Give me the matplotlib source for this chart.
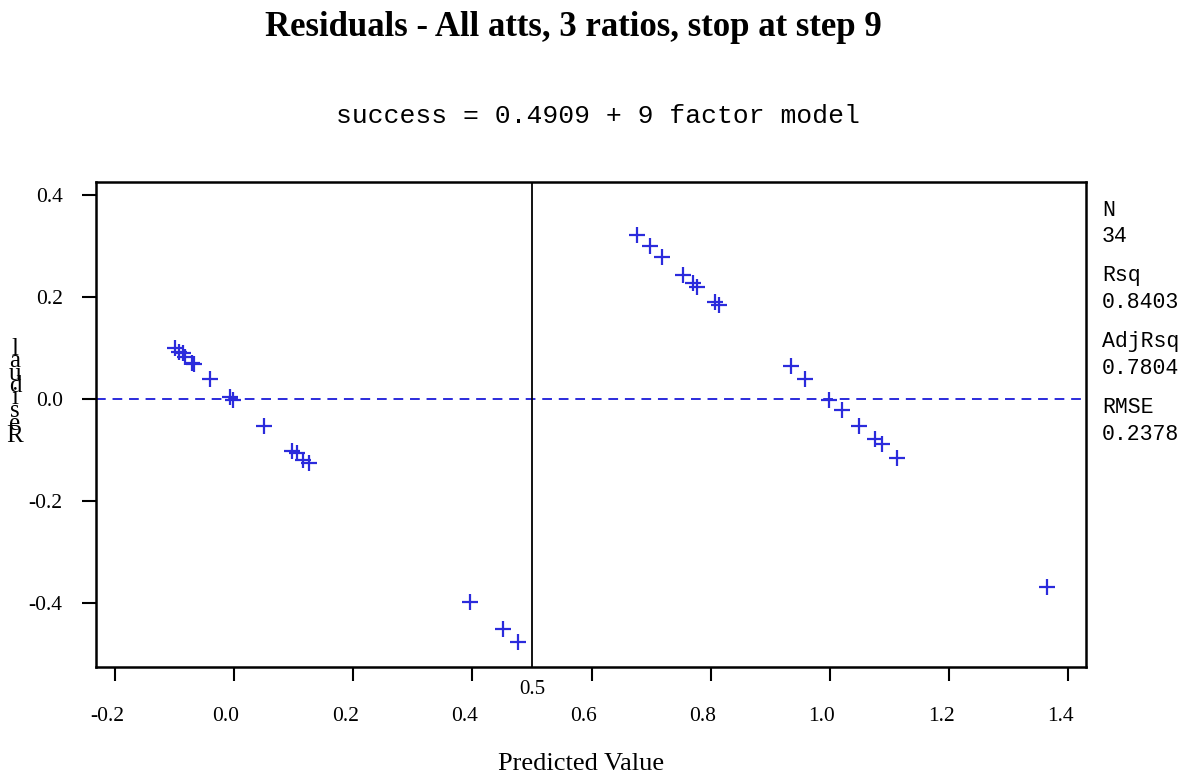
import numpy as np
import matplotlib
matplotlib.use("Agg")
import matplotlib.pyplot as plt
import matplotlib.transforms as mtransforms

# predicted values and residuals
pred = [-0.099, -0.092, -0.086, -0.082, -0.071, -0.067, -0.040, -0.007, -0.001,
        0.051, 0.097, 0.105, 0.116, 0.126, 0.396, 0.451, 0.476,
        0.676, 0.698, 0.718, 0.753, 0.771, 0.777, 0.808, 0.814,
        0.934, 0.958, 0.998, 1.020, 1.049, 1.075, 1.088, 1.113, 1.365]
resid = [0.101, 0.093, 0.090, 0.083, 0.071, 0.068, 0.039, 0.003, -0.001,
         -0.053, -0.102, -0.106, -0.120, -0.126, -0.398, -0.452, -0.477,
         0.322, 0.301, 0.278, 0.243, 0.228, 0.220, 0.190, 0.184,
         0.064, 0.039, -0.001, -0.022, -0.053, -0.078, -0.089, -0.116, -0.369]

xticks = [-0.2, 0.0, 0.2, 0.4, 0.6, 0.8, 1.0, 1.2, 1.4]
yticks = [-0.4, -0.2, 0.0, 0.2, 0.4]
ref_x = 0.5

stat_names = ["N", "Rsq", "AdjRsq", "RMSE"]
stat_values = ["34", "0.8403", "0.7804", "0.2378"]

title = "Residuals - All atts, 3 ratios, stop at step 9"
subtitle = "success = 0.4909 + 9 factor model"

blue = "#2b2bdc"
serif = "Liberation Serif"
mono = "Liberation Mono"

W, H = 1187, 783
fig = plt.figure(figsize=(W / 100, H / 100), dpi=100)
ax = fig.add_axes([96 / W, 1 - 667 / H, 990 / W, 485 / H])

ax.plot(pred, resid, linestyle="none", marker="+", markersize=11,
        markeredgewidth=1.6, color=blue)
ax.axhline(0, color=blue, linestyle=(0, (5, 3.5)), linewidth=1.4)
ax.axvline(ref_x, color="black", linewidth=1.3)

ax.set_xlim(-0.2316, 1.4298)
ax.set_ylim(-0.526, 0.426)
ax.set_xticks(xticks)
ax.set_yticks(yticks)
ax.set_xticklabels(["%.1f" % v for v in xticks], fontfamily=serif, fontsize=15.5)
ax.set_yticklabels(["%.1f" % v for v in yticks], fontfamily=serif, fontsize=15.5)
ax.tick_params(direction="out", length=10, width=1.5)
ax.tick_params(axis="x", pad=19)
ax.tick_params(axis="y", pad=14)
for sp in ax.spines.values():
    sp.set_linewidth(1.8)

# x tick labels sit a bit left of their ticks
shift = mtransforms.ScaledTranslation(-8 / 100, 0, fig.dpi_scale_trans)
for lab in ax.get_xticklabels():
    lab.set_transform(lab.get_transform() + shift)

trans = mtransforms.blended_transform_factory(ax.transData, ax.transAxes)
ax.text(ref_x, -0.027, "0.5", transform=trans, ha="center", va="top",
        fontfamily=serif, fontsize=15)

fig.text(573 / W, 1 - 27 / H, title, ha="center", va="center",
         fontfamily=serif, fontweight="bold", fontsize=25)
fig.text(598 / W, 1 - 116 / H, subtitle, ha="center", va="center",
         fontfamily=mono, fontsize=19)
fig.text(581 / W, 1 - 764 / H, "Predicted Value", ha="center", va="center",
         fontfamily=serif, fontsize=19)

# stacked y label, letters drawn upright from the bottom up
ylab = "Residual"
for i, ch in enumerate(ylab):
    fig.text(15 / W, 1 - (436 - i * 12.5) / H, ch, ha="center", va="center",
             fontfamily=serif, fontsize=18)

# model statistics on the right
ys = [210, 276, 342, 408]
for name, val, y in zip(stat_names, stat_values, ys):
    fig.text(1102 / W, 1 - y / H, name, ha="left", va="center",
             fontfamily=mono, fontsize=15.5)
    fig.text(1102 / W, 1 - (y + 27) / H, val, ha="left", va="center",
             fontfamily=mono, fontsize=15.5)

fig.savefig("out.png", dpi=100)
